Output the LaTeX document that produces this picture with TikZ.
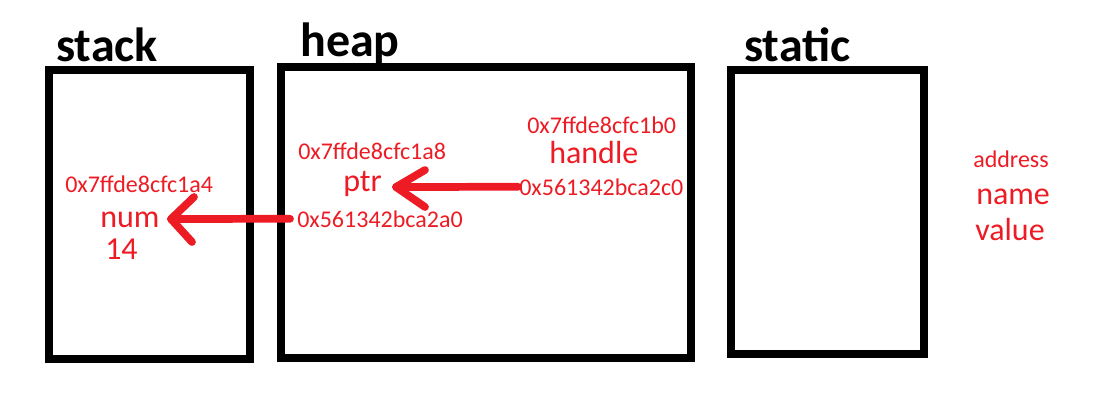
\documentclass[tikz,border=0pt]{standalone}
\usepackage{fontspec}
\setmainfont{Carlito}
\definecolor{paintred}{HTML}{ED1C24}
\begin{document}
\begin{tikzpicture}[x=0.75pt,y=-0.75pt,
  membox/.style={draw=black, line width=6pt, inner sep=0pt},
  title/.style={anchor=base west, inner sep=0pt, font=\fontsize{36}{40}\selectfont\bfseries},
  addr/.style={anchor=base west, inner sep=0pt, text=paintred, font=\fontsize{18}{20}\selectfont},
  vname/.style={anchor=base west, inner sep=0pt, text=paintred, font=\fontsize{24}{28}\selectfont},
  ptrline/.style={draw=paintred, line width=5.8pt, line cap=round, line join=round}]
\useasboundingbox (0,0) rectangle (1106,405);
\fill[white] (0,0) rectangle (1106,405);

% memory regions
\node[membox, minimum width=150.75pt, minimum height=216.75pt] (stack) at (149,214.5) {};
\node[membox, minimum width=307.5pt, minimum height=218.25pt] (heap) at (486,212.5) {};
\node[membox, minimum width=144.75pt, minimum height=213pt] (static) at (827.5,212) {};

% titles
\node[title] (tstack) at (56,61) {stack};
\node[title] (theap) at (300,56) {heap};
\node[title] (tstatic) at (744,61) {static};

% stack contents
\node[addr] (numaddr) at (65,192) {0x7ffde8cfc1a4};
\node[vname] (num) at (100,227) {num};
\node[vname] (numval) at (105,259.5) {14};

% heap contents
\node[addr] (ptraddr) at (298,159.5) {0x7ffde8cfc1a8};
\node[vname] (ptr) at (343,191) {ptr};
\node[addr] (ptrval) at (297,227) {0x561342bca2a0};

\node[addr] (haddr) at (527,133) {0x7ffde8cfc1b0};
\node[vname] (handle) at (549,163) {handle};
\node[addr] (hval) at (519,195) {0x561342bca2c0};

% legend
\node[addr] (laddr) at (973,167) {address};
\node[vname] (lname) at (976,204) {name};
\node[vname] (lvalue) at (975,240) {value};

% pointer arrows
\coordinate (tipA) at (171,219);
\draw[ptrline] ([xshift=-5.25pt]ptrval.west) -- (tipA);
\draw[ptrline] ([shift={(23,-22)}]tipA) -- (tipA) -- ([shift={(21,23)}]tipA);

\coordinate (tipB) at (396,187);
\draw[ptrline] ([xshift=-0.75pt]hval.west) -- (tipB);
\draw[ptrline] ([shift={(29,-17)}]tipB) -- (tipB) -- ([shift={(29,20)}]tipB);
\end{tikzpicture}
\end{document}
